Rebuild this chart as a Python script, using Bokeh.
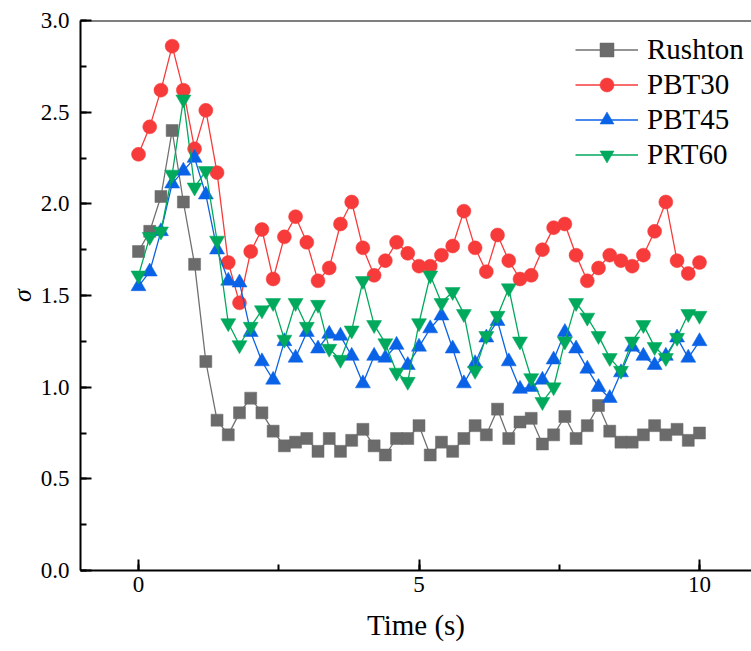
from bokeh.plotting import figure
from bokeh.models import SingleIntervalTicker, Span, Range1d, Legend, LegendItem, PrintfTickFormatter
from bokeh.embed import file_html
from bokeh.resources import INLINE

time = [0.0, 0.2, 0.4, 0.6, 0.8, 1.0, 1.2, 1.4, 1.6, 1.8, 2.0, 2.2, 2.4, 2.6, 2.8, 3.0,
        3.2, 3.4, 3.6, 3.8, 4.0, 4.2, 4.4, 4.6, 4.8, 5.0, 5.2, 5.4, 5.6, 5.8, 6.0, 6.2,
        6.4, 6.6, 6.8, 7.0, 7.2, 7.4, 7.6, 7.8, 8.0, 8.2, 8.4, 8.6, 8.8, 9.0, 9.2, 9.4,
        9.6, 9.8, 10.0]

rushton = [1.74, 1.85, 2.04, 2.40, 2.01, 1.67, 1.14, 0.82, 0.74, 0.86, 0.94,
           0.86, 0.76, 0.68, 0.70, 0.72, 0.65, 0.72, 0.65, 0.71, 0.77,
           0.68, 0.63, 0.72, 0.72, 0.79, 0.63, 0.70, 0.65, 0.72, 0.79,
           0.74, 0.88, 0.72, 0.81, 0.83, 0.69, 0.74, 0.84, 0.72, 0.79,
           0.90, 0.76, 0.70, 0.70, 0.74, 0.79, 0.74, 0.77, 0.71, 0.75]

pbt30 = [2.27, 2.42, 2.62, 2.86, 2.62, 2.30, 2.51, 2.17, 1.68, 1.46, 1.74,
         1.86, 1.59, 1.82, 1.93, 1.79, 1.58, 1.65, 1.89, 2.01, 1.76,
         1.61, 1.69, 1.79, 1.73, 1.66, 1.66, 1.72, 1.77, 1.96, 1.76,
         1.63, 1.83, 1.69, 1.59, 1.61, 1.75, 1.87, 1.89, 1.72, 1.58,
         1.65, 1.72, 1.69, 1.66, 1.72, 1.85, 2.01, 1.69, 1.62, 1.68]

pbt45 = [1.55, 1.63, 1.85, 2.11, 2.18, 2.25, 2.05, 1.75, 1.58, 1.57, 1.30,
         1.14, 1.04, 1.25, 1.16, 1.30, 1.21, 1.29, 1.28, 1.17, 1.02,
         1.17, 1.16, 1.23, 1.12, 1.22, 1.32, 1.39, 1.21, 1.02, 1.13,
         1.27, 1.36, 1.14, 0.99, 1.00, 1.04, 1.15, 1.30, 1.21, 1.10,
         1.00, 0.94, 1.08, 1.22, 1.17, 1.12, 1.17, 1.27, 1.16, 1.25]

prt60 = [1.61, 1.82, 1.85, 2.16, 2.57, 2.09, 2.18, 1.80, 1.35, 1.23, 1.33,
         1.42, 1.46, 1.26, 1.46, 1.33, 1.45, 1.21, 1.15, 1.31, 1.58,
         1.34, 1.24, 1.08, 1.03, 1.35, 1.61, 1.46, 1.52, 1.40, 1.09,
         1.28, 1.39, 1.54, 1.25, 1.05, 0.92, 1.00, 1.25, 1.46, 1.38,
         1.28, 1.16, 1.09, 1.25, 1.34, 1.22, 1.16, 1.27, 1.40, 1.39]

series = [
    ("Rushton", rushton, "square", "#6b6b6b", "#707070", 12),
    ("PBT30", pbt30, "circle", "#f73b3b", "#f73b3b", 14),
    ("PBT45", pbt45, "triangle", "#0a62e6", "#0a62e6", 15),
    ("PRT60", prt60, "inverted_triangle", "#00a95c", "#00a95c", 15),
]

FONT = "Liberation Serif"

p = figure(width=751, height=651, output_backend="svg", toolbar_location=None,
           x_range=Range1d(-1.034, 10.927), y_range=Range1d(0, 3.0),
           min_border_left=80, min_border_right=0, min_border_top=20,
           min_border_bottom=81)
p.outline_line_color = None
p.xgrid.visible = False
p.ygrid.visible = False
p.background_fill_color = "white"

items = []
for name, vals, marker, mcol, lcol, size in series:
    r1 = p.line(time, vals, line_color=lcol, line_width=1.3)
    r2 = p.scatter(time, vals, marker=marker, size=size, fill_color=mcol,
                   line_color=mcol, line_width=0.5)
    items.append(LegendItem(label=name, renderers=[r1, r2]))

p.xaxis.ticker = SingleIntervalTicker(interval=5, num_minor_ticks=2)
p.yaxis.ticker = SingleIntervalTicker(interval=0.5, num_minor_ticks=2)
p.yaxis.formatter = PrintfTickFormatter(format="%.1f")

for ax in (p.xaxis, p.yaxis):
    ax.axis_line_width = 2
    ax.major_tick_line_width = 2
    ax.minor_tick_line_width = 2
    ax.major_tick_in = 11
    ax.major_tick_out = 0
    ax.minor_tick_in = 6
    ax.minor_tick_out = 0
    ax.major_label_text_font = FONT
    ax.major_label_text_font_size = "23px"
    ax.major_label_text_color = "black"
    ax.axis_label_text_font = FONT
    ax.axis_label_text_font_size = "29px"
    ax.axis_label_text_color = "black"

p.xaxis.major_label_standoff = 6
p.yaxis.major_label_standoff = 11
p.xaxis.axis_label = "Time (s)"
p.xaxis.axis_label_text_font_style = "normal"
p.xaxis.axis_label_standoff = 14
p.yaxis.axis_label = "σ"
p.yaxis.axis_label_text_font_size = "26px"
p.yaxis.axis_label_text_font_style = "italic"
p.yaxis.axis_label_standoff = 1

p.add_layout(Span(location=3.0, dimension="width", line_color="black", line_width=2))

legend = Legend(items=items, location=(495, 398))
legend.border_line_color = None
legend.background_fill_alpha = 0
legend.padding = 0
legend.margin = 0
legend.spacing = 0
legend.glyph_width = 63
legend.glyph_height = 35
legend.label_height = 35
legend.label_standoff = 9
legend.label_text_font = FONT
legend.label_text_font_size = "29px"
legend.label_text_color = "black"
p.add_layout(legend)

open("out.html", "w").write(file_html(p, INLINE))
